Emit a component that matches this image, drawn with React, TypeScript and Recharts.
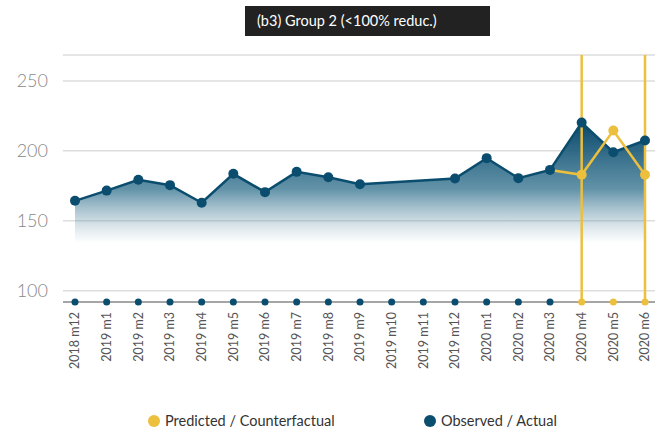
import React from 'react';
import {
  ComposedChart, Area, Line, XAxis, YAxis, CartesianGrid, ReferenceLine, Legend,
} from 'recharts';

const months = [
  '2018 m12', '2019 m1', '2019 m2', '2019 m3', '2019 m4', '2019 m5', '2019 m6',
  '2019 m7', '2019 m8', '2019 m9', '2019 m10', '2019 m11', '2019 m12',
  '2020 m1', '2020 m2', '2020 m3', '2020 m4', '2020 m5', '2020 m6',
];
const observed: (number | null)[] = [
  164.3, 171.6, 179.3, 175.5, 162.9, 183.6, 170.5, 185, 181.2, 176.2,
  null, null, 180.2, 194.8, 180.5, 186.4, 220.2, 199, 207.4,
];
const predicted: (number | null)[] = [
  null, null, null, null, null, null, null, null, null, null,
  null, null, null, null, null, 186.4, 182.9, 214.5, 182.9,
];
const isForecast: boolean[] = [
  false, false, false, false, false, false, false, false, false, false,
  false, false, false, false, false, false, true, true, true,
];
const markerLevel = 92;
const intervalMonths = ['2020 m4', '2020 m6'];
const yTicks = [100, 150, 200, 250];
const title = '(b3) Group 2 (<100% reduc.)';
const legendItems = [
  { name: 'Predicted / Counterfactual', color: '#ECBF3D' },
  { name: 'Observed / Actual', color: '#0B4D6E' },
];

const BLUE = '#0B4D6E';
const YELLOW = '#ECBF3D';
const FONT = 'Lato, "Open Sans", sans-serif';

const data = months.map((m, i) => ({
  month: m,
  observed: observed[i],
  predicted: predicted[i],
  markObs: isForecast[i] ? null : markerLevel,
  markPred: isForecast[i] ? markerLevel : null,
}));

const XTick = (props: any) => {
  const { x, y, payload } = props;
  return (
    <g transform={`translate(${x},${y})`}>
      <text
        transform="rotate(-90)"
        textAnchor="end"
        dy="0.35em"
        fontSize={12.5}
        fill="#555"
        fontFamily={FONT}
      >
        {payload.value}
      </text>
    </g>
  );
};

const PredDot = (props: any) => {
  const { cx, cy, index, payload } = props;
  if (cx == null || cy == null || payload?.predicted == null || !isForecast[index]) {
    return <g key={`pd-${index}`} />;
  }
  return <circle key={`pd-${index}`} cx={cx} cy={cy} r={5} fill={YELLOW} />;
};

const LegendContent = () => (
  <div style={{ position: 'relative', width: 661, height: 52, fontFamily: FONT }}>
    {legendItems.map((it, i) => (
      <div
        key={it.name}
        style={{
          position: 'absolute',
          left: i === 0 ? 148 : 424,
          top: 30,
          display: 'flex',
          alignItems: 'center',
          fontSize: 14.5,
          color: '#333',
          whiteSpace: 'nowrap',
        }}
      >
        <span
          style={{
            display: 'inline-block',
            width: 12,
            height: 12,
            borderRadius: 6,
            background: it.color,
            marginRight: 5,
          }}
        />
        {it.name}
      </div>
    ))}
  </div>
);

export default function App() {
  return (
    <div style={{ position: 'absolute', left: 0, top: 0, width: 661, height: 434, background: '#fff' }}>
      <div
        style={{
          position: 'absolute',
          left: 245,
          top: 6,
          width: 245,
          height: 30,
          background: '#222',
          color: '#fff',
          fontFamily: FONT,
          fontSize: 14.5,
          lineHeight: '30px',
          paddingLeft: 12,
          boxSizing: 'border-box',
          zIndex: 2,
        }}
      >
        {title}
      </div>
      <ComposedChart
        width={661}
        height={434}
        data={data}
        margin={{ top: 55, right: 6, left: 0, bottom: 0 }}
      >
        <defs>
          <linearGradient id="obsFill" x1="0" y1="0" x2="0" y2="1">
            <stop offset="0%" stopColor="#08476A" stopOpacity={1} />
            <stop offset="55%" stopColor="#3A7792" stopOpacity={0.8} />
            <stop offset="100%" stopColor="#7FA6B8" stopOpacity={0} />
          </linearGradient>
        </defs>
        <CartesianGrid vertical={false} stroke="#DDDDDD" strokeWidth={1.5} />
        <XAxis
          dataKey="month"
          scale="point"
          padding={{ left: 12, right: 10 }}
          interval={0}
          tick={<XTick />}
          tickLine={false}
          tickSize={6}
          tickMargin={4}
          axisLine={{ stroke: '#666', strokeWidth: 1 }}
          height={80}
        />
        <YAxis
          domain={[92, 268.5]}
          ticks={yTicks}
          axisLine={false}
          tickLine={false}
          tickMargin={9}
          width={63}
          tick={{ fontSize: 18, fill: '#888', fontFamily: FONT, fontWeight: 300 }}
        />
        {intervalMonths.map((m) => (
          <ReferenceLine key={m} x={m} stroke={YELLOW} strokeWidth={2.5} />
        ))}
        <Area
          type="linear"
          dataKey="observed"
          baseValue={134}
          connectNulls
          stroke={BLUE}
          strokeWidth={2.5}
          fill="url(#obsFill)"
          fillOpacity={1}
          dot={{ r: 5, fill: BLUE, stroke: 'none' }}
          activeDot={false}
          isAnimationActive={false}
        />
        <Line
          type="linear"
          dataKey="predicted"
          stroke={YELLOW}
          strokeWidth={2.5}
          dot={<PredDot />}
          activeDot={false}
          isAnimationActive={false}
        />
        <Line
          dataKey="markObs"
          stroke="none"
          dot={{ r: 3.5, fill: BLUE, stroke: 'none' }}
          activeDot={false}
          isAnimationActive={false}
        />
        <Line
          dataKey="markPred"
          stroke="none"
          dot={{ r: 3.5, fill: YELLOW, stroke: 'none' }}
          activeDot={false}
          isAnimationActive={false}
        />
        <Legend
          verticalAlign="bottom"
          height={52}
          wrapperStyle={{ left: 0, width: 661, height: 52 }}
          content={<LegendContent />}
        />
      </ComposedChart>
    </div>
  );
}
